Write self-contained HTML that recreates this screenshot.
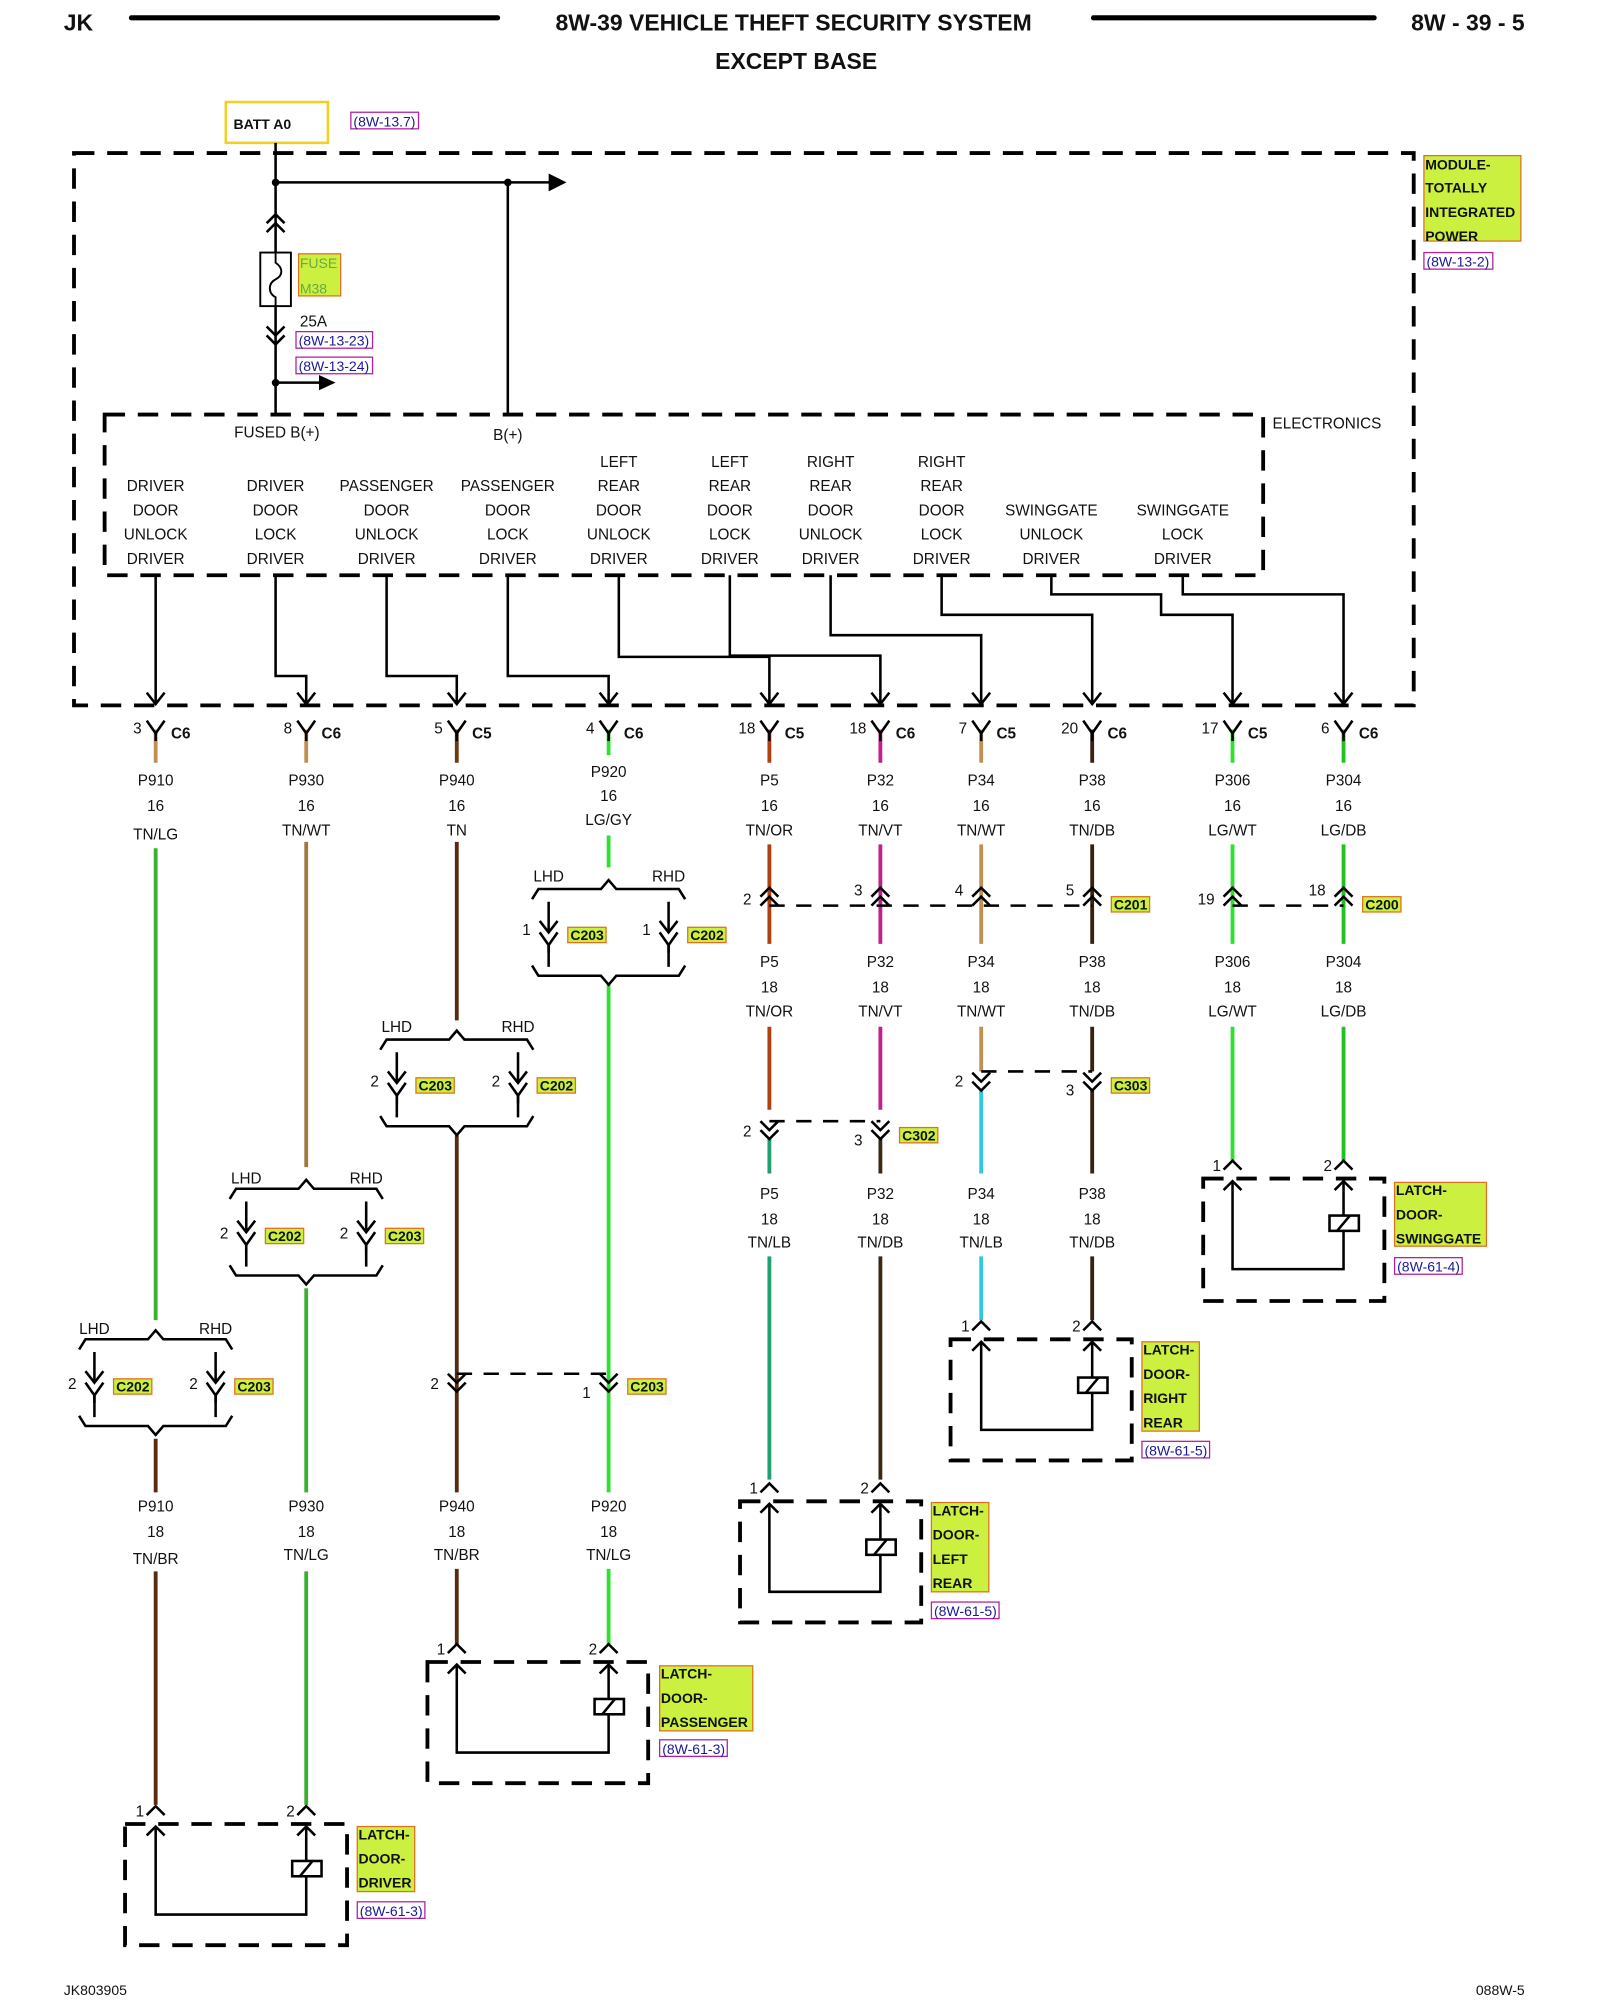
<!DOCTYPE html>
<html><head><meta charset="utf-8"><style>
html,body{margin:0;padding:0;background:#fff}
svg{display:block}
text{font-family:"Liberation Sans",sans-serif;font-size:12px;fill:#111}
.m{text-anchor:middle}
.b{font-weight:bold}
.t{font-weight:bold;font-size:11px}
.r{fill:#1a1a9a;font-size:11px}
.k{stroke:#000;stroke-width:2;fill:none}
.d{stroke:#000;stroke-width:3;fill:none;stroke-dasharray:16 10}
.d2{stroke:#000;stroke-width:2;fill:none;stroke-dasharray:12 9}
.tag{fill:#ccf040;stroke:#e07020;stroke-width:1}
.ref{fill:none;stroke:#b020a0;stroke-width:1}
</style></head><body>
<svg width="1600" height="2000" viewBox="0 0 1254 1568" preserveAspectRatio="none" xmlns="http://www.w3.org/2000/svg">
<defs>
<path id="Y" d="M-7,-10 L0,0 L7,-10 M0,0 V6" stroke="#000" stroke-width="2" fill="none"/>
<path id="AD" d="M-7,-9 L0,0 L7,-9" stroke="#000" stroke-width="2" fill="none"/>
<path id="CU" d="M-7,7 L0,0 L7,7 M-7,14 L0,7 L7,14" stroke="#000" stroke-width="2" fill="none"/>
<path id="CD" d="M-7,-7 L0,0 L7,-7 M-7,-14 L0,-7 L7,-14" stroke="#000" stroke-width="2" fill="none"/>
<path id="CA" d="M-7,7 L0,0 L7,7" stroke="#000" stroke-width="2" fill="none"/>
</defs>

<!-- header -->
<text x="50" y="24" class="b" style="font-size:18px">JK</text>
<line x1="103" y1="14" x2="390" y2="14" stroke="#000" stroke-width="4" stroke-linecap="round"/>
<text x="622" y="24" class="m b" style="font-size:18px">8W-39 VEHICLE THEFT SECURITY SYSTEM</text>
<line x1="857" y1="14" x2="1077" y2="14" stroke="#000" stroke-width="4" stroke-linecap="round"/>
<text x="1195" y="24" class="b" style="font-size:18px;text-anchor:end">8W - 39 - 5</text>
<text x="624" y="54" class="m b" style="font-size:18px">EXCEPT BASE</text>

<!-- battery -->
<rect x="177" y="80" width="80" height="32" fill="none" stroke="#f0d020" stroke-width="2"/>
<text x="183" y="101" class="b" style="font-size:11px">BATT A0</text>
<rect x="275" y="88" width="53" height="13" class="ref"/>
<text x="277" y="99" class="r">(8W-13.7)</text>

<!-- module boxes -->
<rect x="58" y="120" width="1050" height="433" class="d"/>
<rect x="82" y="325" width="908" height="126" class="d"/>
<rect x="1116" y="122" width="76" height="67" class="tag"/>
<text x="1117" y="133" class="t">MODULE-</text>
<text x="1117" y="151" class="t">TOTALLY</text>
<text x="1117" y="170" class="t">INTEGRATED</text>
<text x="1117" y="189" class="t">POWER</text>
<rect x="1116" y="198" width="54" height="13" class="ref"/>
<text x="1118" y="209" class="r">(8W-13-2)</text>
<text x="1040" y="336" class="m">ELECTRONICS</text>

<!-- power feed -->
<path class="k" d="M216,112 V325 M216,143 H432 M398,143 V325 M216,300 H252"/>
<path d="M430,136 L444,143 L430,150 Z M250,294 L263,300 L250,306 Z"/>
<circle cx="216" cy="143" r="3"/><circle cx="398" cy="143" r="3"/><circle cx="216" cy="300" r="3"/>
<use href="#CU" x="216" y="168"/>
<rect x="204" y="198" width="24" height="42" fill="#fff" stroke="#000" stroke-width="1.5"/>
<path d="M216,198 V206 C222,210 222,216 216,219 C210,222 210,230 216,233 V240" stroke="#000" stroke-width="1.5" fill="none"/>
<use href="#CD" x="216" y="270"/>
<rect x="234" y="199" width="33" height="33" class="tag"/>
<text x="235" y="210" style="font-size:11px;fill:#6a4">FUSE</text>
<text x="235" y="230" style="font-size:11px;fill:#6a4">M38</text>
<text x="235" y="256">25A</text>
<rect x="232" y="260" width="60" height="13" class="ref"/>
<text x="234" y="271" class="r">(8W-13-23)</text>
<rect x="232" y="280" width="60" height="13" class="ref"/>
<text x="234" y="291" class="r">(8W-13-24)</text>
<text x="217" y="343" class="m">FUSED B(+)</text>
<text x="398" y="345" class="m">B(+)</text>

<!-- driver labels -->
<g class="m">
<text x="122" y="385" class="m">DRIVER</text><text x="122" y="404" class="m">DOOR</text><text x="122" y="423" class="m">UNLOCK</text><text x="122" y="442" class="m">DRIVER</text>
<text x="216" y="385" class="m">DRIVER</text><text x="216" y="404" class="m">DOOR</text><text x="216" y="423" class="m">LOCK</text><text x="216" y="442" class="m">DRIVER</text>
<text x="303" y="385" class="m">PASSENGER</text><text x="303" y="404" class="m">DOOR</text><text x="303" y="423" class="m">UNLOCK</text><text x="303" y="442" class="m">DRIVER</text>
<text x="398" y="385" class="m">PASSENGER</text><text x="398" y="404" class="m">DOOR</text><text x="398" y="423" class="m">LOCK</text><text x="398" y="442" class="m">DRIVER</text>
<text x="485" y="366" class="m">LEFT</text><text x="485" y="385" class="m">REAR</text><text x="485" y="404" class="m">DOOR</text><text x="485" y="423" class="m">UNLOCK</text><text x="485" y="442" class="m">DRIVER</text>
<text x="572" y="366" class="m">LEFT</text><text x="572" y="385" class="m">REAR</text><text x="572" y="404" class="m">DOOR</text><text x="572" y="423" class="m">LOCK</text><text x="572" y="442" class="m">DRIVER</text>
<text x="651" y="366" class="m">RIGHT</text><text x="651" y="385" class="m">REAR</text><text x="651" y="404" class="m">DOOR</text><text x="651" y="423" class="m">UNLOCK</text><text x="651" y="442" class="m">DRIVER</text>
<text x="738" y="366" class="m">RIGHT</text><text x="738" y="385" class="m">REAR</text><text x="738" y="404" class="m">DOOR</text><text x="738" y="423" class="m">LOCK</text><text x="738" y="442" class="m">DRIVER</text>
<text x="824" y="404" class="m">SWINGGATE</text><text x="824" y="423" class="m">UNLOCK</text><text x="824" y="442" class="m">DRIVER</text>
<text x="927" y="404" class="m">SWINGGATE</text><text x="927" y="423" class="m">LOCK</text><text x="927" y="442" class="m">DRIVER</text>
</g>

<!-- internal routing -->
<path class="k" d="M122,451 V552 M216,451 V530 H240 V552 M303,451 V530 H358 V552 M398,451 V530 H477 V552 M485,451 V515 H603 V552 M572,451 V514 H690 V552 M651,451 V498 H769 V552 M738,451 V482 H856 V552 M824,451 V466 H910 V482 H966 V552 M927,451 V466 H1053 V552"/>
<use href="#AD" x="122" y="552"/><use href="#AD" x="240" y="552"/><use href="#AD" x="358" y="552"/><use href="#AD" x="477" y="552"/><use href="#AD" x="603" y="552"/><use href="#AD" x="690" y="552"/><use href="#AD" x="769" y="552"/><use href="#AD" x="856" y="552"/><use href="#AD" x="966" y="552"/><use href="#AD" x="1053" y="552"/>

<!-- wires (colored) -->
<g stroke-width="3" fill="none">
<path stroke="#c09050" d="M122,572 V598"/><path stroke="#c09050" d="M240,572 V598"/><path stroke="#6b3a10" d="M358,572 V598"/><path stroke="#30e030" d="M477,572 V592"/>
<path stroke="#b04010" d="M603,572 V598"/><path stroke="#c0208f" d="M690,572 V598"/><path stroke="#c09050" d="M769,572 V598"/><path stroke="#3a2010" d="M856,572 V598"/><path stroke="#30e030" d="M966,572 V598"/><path stroke="#22c022" d="M1053,572 V598"/>
<path stroke="#3ab030" d="M122,665 V1035 M240,1010 V1170 M240,1232 V1415"/>
<path stroke="#a07840" d="M240,660 V915"/>
<path stroke="#5a2a10" d="M358,660 V800 M358,890 V1170 M358,1230 V1290 M122,1128 V1170 M122,1232 V1415"/>
<path stroke="#30e030" d="M477,655 V680 M477,772 V1170 M477,1230 V1290 M966,662 V740 M966,805 V910"/>
<path stroke="#22c022" d="M1053,662 V740 M1053,805 V910"/>
<path stroke="#b04010" d="M603,662 V740 M603,805 V870"/>
<path stroke="#c0208f" d="M690,662 V740 M690,805 V870"/>
<path stroke="#c09050" d="M769,662 V740 M769,805 V840"/>
<path stroke="#3a2010" d="M856,662 V740 M856,805 V840 M856,855 V920 M856,985 V1035"/>
<path stroke="#20a070" d="M603,892 V920 M603,985 V1160"/>
<path stroke="#3a2a10" d="M690,892 V920 M690,985 V1160"/>
<path stroke="#30c8e0" d="M769,855 V920 M769,985 V1035"/>
</g>

<!-- Y connectors at module -->
<use href="#Y" x="122" y="575"/><use href="#Y" x="240" y="575"/><use href="#Y" x="358" y="575"/><use href="#Y" x="477" y="575"/><use href="#Y" x="603" y="575"/><use href="#Y" x="690" y="575"/><use href="#Y" x="769" y="575"/><use href="#Y" x="856" y="575"/><use href="#Y" x="966" y="575"/><use href="#Y" x="1053" y="575"/>
<g class="b" style="font-size:11px">
<text x="134" y="579">C6</text><text x="252" y="579">C6</text><text x="370" y="579">C5</text><text x="489" y="579">C6</text><text x="615" y="579">C5</text><text x="702" y="579">C6</text><text x="781" y="579">C5</text><text x="868" y="579">C6</text><text x="978" y="579">C5</text><text x="1065" y="579">C6</text>
</g>
<g style="text-anchor:end">
<text x="111" y="575" style="text-anchor:end">3</text><text x="229" y="575" style="text-anchor:end">8</text><text x="347" y="575" style="text-anchor:end">5</text><text x="466" y="575" style="text-anchor:end">4</text><text x="592" y="575" style="text-anchor:end">18</text><text x="679" y="575" style="text-anchor:end">18</text><text x="758" y="575" style="text-anchor:end">7</text><text x="845" y="575" style="text-anchor:end">20</text><text x="955" y="575" style="text-anchor:end">17</text><text x="1042" y="575" style="text-anchor:end">6</text>
</g>

<!-- wire labels row 1 -->
<text x="122" y="616" class="m">P910</text><text x="122" y="636" class="m">16</text><text x="122" y="658" class="m">TN/LG</text>
<text x="240" y="616" class="m">P930</text><text x="240" y="636" class="m">16</text><text x="240" y="655" class="m">TN/WT</text>
<text x="358" y="616" class="m">P940</text><text x="358" y="636" class="m">16</text><text x="358" y="655" class="m">TN</text>
<text x="477" y="609" class="m">P920</text><text x="477" y="628" class="m">16</text><text x="477" y="647" class="m">LG/GY</text>
<text x="603" y="616" class="m">P5</text><text x="603" y="636" class="m">16</text><text x="603" y="655" class="m">TN/OR</text>
<text x="690" y="616" class="m">P32</text><text x="690" y="636" class="m">16</text><text x="690" y="655" class="m">TN/VT</text>
<text x="769" y="616" class="m">P34</text><text x="769" y="636" class="m">16</text><text x="769" y="655" class="m">TN/WT</text>
<text x="856" y="616" class="m">P38</text><text x="856" y="636" class="m">16</text><text x="856" y="655" class="m">TN/DB</text>
<text x="966" y="616" class="m">P306</text><text x="966" y="636" class="m">16</text><text x="966" y="655" class="m">LG/WT</text>
<text x="1053" y="616" class="m">P304</text><text x="1053" y="636" class="m">16</text><text x="1053" y="655" class="m">LG/DB</text>

<!-- C201 / C200 -->
<path class="d2" d="M603,710 H856 M966,710 H1053"/>
<use href="#CU" x="603" y="696"/><use href="#CU" x="690" y="696"/><use href="#CU" x="769" y="696"/><use href="#CU" x="856" y="696"/><use href="#CU" x="966" y="696"/><use href="#CU" x="1053" y="696"/>
<text x="589" y="709" style="text-anchor:end">2</text><text x="676" y="702" style="text-anchor:end">3</text><text x="755" y="702" style="text-anchor:end">4</text><text x="842" y="702" style="text-anchor:end">5</text><text x="952" y="709" style="text-anchor:end">19</text><text x="1039" y="702" style="text-anchor:end">18</text>
<rect x="871" y="703" width="30" height="12" class="tag"/><text x="873" y="713" class="t">C201</text>
<rect x="1068" y="703" width="30" height="12" class="tag"/><text x="1070" y="713" class="t">C200</text>

<text x="603" y="758" class="m">P5</text><text x="603" y="778" class="m">18</text><text x="603" y="797" class="m">TN/OR</text>
<text x="690" y="758" class="m">P32</text><text x="690" y="778" class="m">18</text><text x="690" y="797" class="m">TN/VT</text>
<text x="769" y="758" class="m">P34</text><text x="769" y="778" class="m">18</text><text x="769" y="797" class="m">TN/WT</text>
<text x="856" y="758" class="m">P38</text><text x="856" y="778" class="m">18</text><text x="856" y="797" class="m">TN/DB</text>
<text x="966" y="758" class="m">P306</text><text x="966" y="778" class="m">18</text><text x="966" y="797" class="m">LG/WT</text>
<text x="1053" y="758" class="m">P304</text><text x="1053" y="778" class="m">18</text><text x="1053" y="797" class="m">LG/DB</text>

<!-- C303 / C302 -->
<path class="d2" d="M769,840 H856 M603,879 H690"/>
<use href="#CD" x="769" y="855"/><use href="#CD" x="856" y="855"/>
<use href="#CD" x="603" y="893"/><use href="#CD" x="690" y="893"/>
<text x="755" y="852" style="text-anchor:end">2</text><text x="842" y="859" style="text-anchor:end">3</text>
<text x="589" y="891" style="text-anchor:end">2</text><text x="676" y="898" style="text-anchor:end">3</text>
<rect x="871" y="845" width="30" height="12" class="tag"/><text x="873" y="855" class="t">C303</text>
<rect x="705" y="884" width="30" height="12" class="tag"/><text x="707" y="894" class="t">C302</text>

<text x="603" y="940" class="m">P5</text><text x="603" y="960" class="m">18</text><text x="603" y="978" class="m">TN/LB</text>
<text x="690" y="940" class="m">P32</text><text x="690" y="960" class="m">18</text><text x="690" y="978" class="m">TN/DB</text>
<text x="769" y="940" class="m">P34</text><text x="769" y="960" class="m">18</text><text x="769" y="978" class="m">TN/LB</text>
<text x="856" y="940" class="m">P38</text><text x="856" y="960" class="m">18</text><text x="856" y="978" class="m">TN/DB</text>

<!-- Braces -->
<g class="k">
<path d="M417,705 L422,697 L471,697 L477,690 L483,697 L532,697 L537,705"/>
<path d="M430,707 V731 M524,707 V731 M430,741 V758 M524,741 V758"/>
<path d="M417,757 L422,765 L471,765 L477,772 L483,765 L532,765 L537,757"/>
<path d="M298,823 L303,815 L352,815 L358,808 L364,815 L413,815 L418,823"/>
<path d="M311,825 V849 M406,825 V849 M311,859 V876 M406,859 V876"/>
<path d="M298,875 L303,883 L352,883 L358,890 L364,883 L413,883 L418,875"/>
<path d="M180,940 L185,932 L234,932 L240,925 L246,932 L295,932 L300,940"/>
<path d="M193,942 V966 M287,942 V966 M193,976 V993 M287,976 V993"/>
<path d="M180,992 L185,1000 L234,1000 L240,1007 L246,1000 L295,1000 L300,992"/>
<path d="M62,1058 L67,1050 L116,1050 L122,1043 L128,1050 L177,1050 L182,1058"/>
<path d="M74,1060 V1084 M169,1060 V1084 M74,1094 V1111 M169,1094 V1111"/>
<path d="M62,1110 L67,1118 L116,1118 L122,1125 L128,1118 L177,1118 L182,1110"/>
</g>
<use href="#AD" x="430" y="731"/><use href="#Y" x="430" y="741"/><use href="#AD" x="524" y="731"/><use href="#Y" x="524" y="741"/>
<use href="#AD" x="311" y="849"/><use href="#Y" x="311" y="859"/><use href="#AD" x="406" y="849"/><use href="#Y" x="406" y="859"/>
<use href="#AD" x="193" y="966"/><use href="#Y" x="193" y="976"/><use href="#AD" x="287" y="966"/><use href="#Y" x="287" y="976"/>
<use href="#AD" x="74" y="1084"/><use href="#Y" x="74" y="1094"/><use href="#AD" x="169" y="1084"/><use href="#Y" x="169" y="1094"/>
<text x="430" y="691" class="m">LHD</text><text x="524" y="691" class="m">RHD</text>
<text x="311" y="809" class="m">LHD</text><text x="406" y="809" class="m">RHD</text>
<text x="193" y="928" class="m">LHD</text><text x="287" y="928" class="m">RHD</text>
<text x="74" y="1046" class="m">LHD</text><text x="169" y="1046" class="m">RHD</text>
<text x="416" y="733" style="text-anchor:end">1</text><text x="510" y="733" style="text-anchor:end">1</text>
<text x="297" y="852" style="text-anchor:end">2</text><text x="392" y="852" style="text-anchor:end">2</text>
<text x="179" y="971" style="text-anchor:end">2</text><text x="273" y="971" style="text-anchor:end">2</text>
<text x="60" y="1089" style="text-anchor:end">2</text><text x="155" y="1089" style="text-anchor:end">2</text>
<rect x="445" y="727" width="30" height="12" class="tag"/><text x="447" y="737" class="t">C203</text>
<rect x="539" y="727" width="30" height="12" class="tag"/><text x="541" y="737" class="t">C202</text>
<rect x="326" y="845" width="30" height="12" class="tag"/><text x="328" y="855" class="t">C203</text>
<rect x="421" y="845" width="30" height="12" class="tag"/><text x="423" y="855" class="t">C202</text>
<rect x="208" y="963" width="30" height="12" class="tag"/><text x="210" y="973" class="t">C202</text>
<rect x="302" y="963" width="30" height="12" class="tag"/><text x="304" y="973" class="t">C203</text>
<rect x="89" y="1081" width="30" height="12" class="tag"/><text x="91" y="1091" class="t">C202</text>
<rect x="184" y="1081" width="30" height="12" class="tag"/><text x="186" y="1091" class="t">C203</text>

<!-- C203 inline at 1085 -->
<path class="d2" d="M358,1077 H477"/>
<use href="#CD" x="358" y="1091"/><use href="#CD" x="477" y="1091"/>
<text x="344" y="1089" style="text-anchor:end">2</text><text x="463" y="1096" style="text-anchor:end">1</text>
<rect x="492" y="1081" width="30" height="12" class="tag"/><text x="494" y="1091" class="t">C203</text>

<text x="122" y="1185" class="m">P910</text><text x="122" y="1205" class="m">18</text><text x="122" y="1226" class="m">TN/BR</text>
<text x="240" y="1185" class="m">P930</text><text x="240" y="1205" class="m">18</text><text x="240" y="1223" class="m">TN/LG</text>
<text x="358" y="1185" class="m">P940</text><text x="358" y="1205" class="m">18</text><text x="358" y="1223" class="m">TN/BR</text>
<text x="477" y="1185" class="m">P920</text><text x="477" y="1205" class="m">18</text><text x="477" y="1223" class="m">TN/LG</text>

<!-- Latches -->
<rect x="943" y="924" width="142" height="96" class="d"/>
<use href="#CA" x="966" y="910"/><use href="#CA" x="1053" y="910"/>
<path class="k" d="M966,926 V995 H1053 V926"/><use href="#CA" x="966" y="926"/><use href="#CA" x="1053" y="926"/>
<rect x="1042" y="953" width="23" height="12" fill="#fff" stroke="#000" stroke-width="2"/><path class="k" d="M1048,965 L1058,953"/>
<text x="957" y="918" style="text-anchor:end">1</text><text x="1044" y="918" style="text-anchor:end">2</text>
<rect x="1093" y="927" width="72" height="50" class="tag"/>
<text x="1094" y="937" class="t">LATCH-</text><text x="1094" y="956" class="t">DOOR-</text><text x="1094" y="975" class="t">SWINGGATE</text>
<rect x="1093" y="986" width="53" height="13" class="ref"/><text x="1095" y="997" class="r">(8W-61-4)</text>

<rect x="745" y="1050" width="142" height="95" class="d"/>
<use href="#CA" x="769" y="1036"/><use href="#CA" x="856" y="1036"/>
<path class="k" d="M769,1052 V1121 H856 V1052"/><use href="#CA" x="769" y="1052"/><use href="#CA" x="856" y="1052"/>
<rect x="845" y="1080" width="23" height="12" fill="#fff" stroke="#000" stroke-width="2"/><path class="k" d="M851,1092 L861,1080"/>
<text x="760" y="1044" style="text-anchor:end">1</text><text x="847" y="1044" style="text-anchor:end">2</text>
<rect x="895" y="1052" width="45" height="70" class="tag"/>
<text x="896" y="1062" class="t">LATCH-</text><text x="896" y="1081" class="t">DOOR-</text><text x="896" y="1100" class="t">RIGHT</text><text x="896" y="1119" class="t">REAR</text>
<rect x="895" y="1130" width="53" height="13" class="ref"/><text x="897" y="1141" class="r">(8W-61-5)</text>

<rect x="580" y="1177" width="142" height="95" class="d"/>
<use href="#CA" x="603" y="1163"/><use href="#CA" x="690" y="1163"/>
<path class="k" d="M603,1179 V1248 H690 V1179"/><use href="#CA" x="603" y="1179"/><use href="#CA" x="690" y="1179"/>
<rect x="679" y="1207" width="23" height="12" fill="#fff" stroke="#000" stroke-width="2"/><path class="k" d="M685,1219 L695,1207"/>
<text x="594" y="1171" style="text-anchor:end">1</text><text x="681" y="1171" style="text-anchor:end">2</text>
<rect x="730" y="1178" width="45" height="70" class="tag"/>
<text x="731" y="1188" class="t">LATCH-</text><text x="731" y="1207" class="t">DOOR-</text><text x="731" y="1226" class="t">LEFT</text><text x="731" y="1245" class="t">REAR</text>
<rect x="730" y="1256" width="53" height="13" class="ref"/><text x="732" y="1267" class="r">(8W-61-5)</text>

<rect x="335" y="1303" width="173" height="95" class="d"/>
<use href="#CA" x="358" y="1289"/><use href="#CA" x="477" y="1289"/>
<path class="k" d="M358,1305 V1374 H477 V1305"/><use href="#CA" x="358" y="1305"/><use href="#CA" x="477" y="1305"/>
<rect x="466" y="1332" width="23" height="12" fill="#fff" stroke="#000" stroke-width="2"/><path class="k" d="M472,1344 L482,1332"/>
<text x="349" y="1297" style="text-anchor:end">1</text><text x="468" y="1297" style="text-anchor:end">2</text>
<rect x="517" y="1306" width="73" height="51" class="tag"/>
<text x="518" y="1316" class="t">LATCH-</text><text x="518" y="1335" class="t">DOOR-</text><text x="518" y="1354" class="t">PASSENGER</text>
<rect x="517" y="1364" width="53" height="13" class="ref"/><text x="519" y="1375" class="r">(8W-61-3)</text>

<rect x="98" y="1430" width="174" height="95" class="d"/>
<use href="#CA" x="122" y="1416"/><use href="#CA" x="240" y="1416"/>
<path class="k" d="M122,1432 V1501 H240 V1432"/><use href="#CA" x="122" y="1432"/><use href="#CA" x="240" y="1432"/>
<rect x="229" y="1459" width="23" height="12" fill="#fff" stroke="#000" stroke-width="2"/><path class="k" d="M235,1471 L245,1459"/>
<text x="113" y="1424" style="text-anchor:end">1</text><text x="231" y="1424" style="text-anchor:end">2</text>
<rect x="280" y="1432" width="45" height="51" class="tag"/>
<text x="281" y="1442" class="t">LATCH-</text><text x="281" y="1461" class="t">DOOR-</text><text x="281" y="1480" class="t">DRIVER</text>
<rect x="280" y="1491" width="53" height="13" class="ref"/><text x="282" y="1502" class="r">(8W-61-3)</text>

<!-- footer -->
<text x="50" y="1564" style="font-size:11px">JK803905</text>
<text x="1195" y="1564" style="font-size:11px;text-anchor:end">088W-5</text>
</svg>
</body></html>
